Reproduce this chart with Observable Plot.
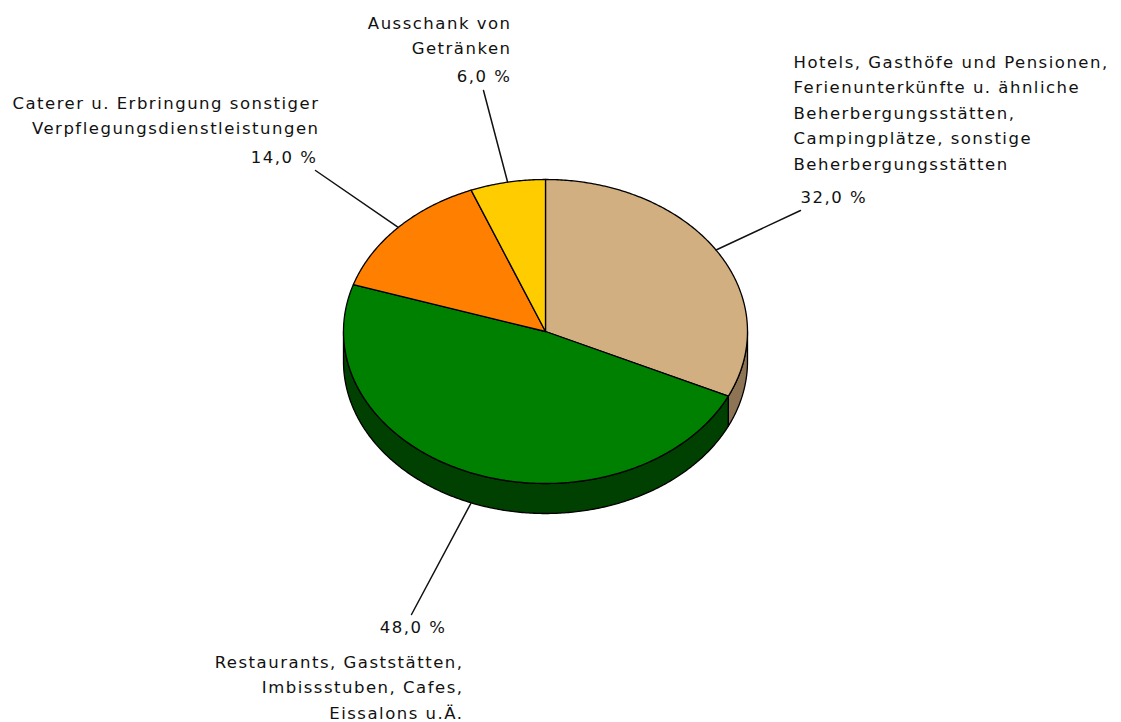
<!DOCTYPE html>
<html>
<head>
<meta charset="utf-8">
<script src="https://cdn.jsdelivr.net/npm/d3@7"></script>
<script src="https://cdn.jsdelivr.net/npm/@observablehq/plot@0.6"></script>
<style>
  html, body { margin: 0; padding: 0; background: #fff; }
  #chart svg { display: block; }
  #chart svg text { letter-spacing: 1.5px; }
</style>
</head>
<body>
<div id="chart"></div>
<script>
// ---- data ----
const categories = [
  "Hotels, Gasthöfe und Pensionen,\nFerienunterkünfte u. ähnliche\nBeherbergungsstätten,\nCampingplätze, sonstige\nBeherbergungsstätten",
  "Restaurants, Gaststätten,\nImbissstuben, Cafes,\nEissalons u.Ä.",
  "Caterer u. Erbringung sonstiger\nVerpflegungsdienstleistungen",
  "Ausschank von\nGetränken"
];
const values = [32.0, 48.0, 14.0, 6.0];
const percentLabels = ["32,0 %", "48,0 %", "14,0 %", "6,0 %"];
const topColors = ["#D2AF80", "#008000", "#FF7F00", "#FFCC00"];
const sideColors = ["#8C7454", "#004000", "#A05000", "#A08000"];

// ---- layout ----
const W = 1121, H = 722;
const CX = 545, CY = 331, RX = 202, RY = 152, DEPTH = 30;
const FONT = 16.5;
// label layout: name block (center), percent, leader end
const labelLayout = [
  {nx: 793, ny: 110, nAnchor: "start", px: 800, py: 197, pAnchor: "start", ex: 800, ey: 210, side: false},
  {nx: 463, ny: 684.5, nAnchor: "end", px: 446, py: 627, pAnchor: "end", ex: 411, ey: 614, side: true},
  {nx: 319, ny: 113, nAnchor: "end", px: 317, py: 157, pAnchor: "end", ex: 315, ey: 170, side: false},
  {nx: 511, ny: 33, nAnchor: "end", px: 511, py: 76, pAnchor: "end", ex: 483, ey: 90, side: false}
];

// ---- geometry (angle clockwise from 12 o'clock) ----
const total = d3.sum(values);
let acc = 0;
const slices = values.map((v, i) => {
  const a0 = acc / total * 2 * Math.PI;
  acc += v;
  const a1 = acc / total * 2 * Math.PI;
  return {i, a0, a1, mid: (a0 + a1) / 2};
});
const px = a => CX + RX * Math.sin(a);
const py = a => CY - RY * Math.cos(a);

const topPts = [];
const sidePts = [];
slices.forEach(s => {
  const n = Math.max(4, Math.ceil((s.a1 - s.a0) / 0.01));
  topPts.push({x: CX, y: CY, id: s.i, fill: topColors[s.i]});
  for (let k = 0; k <= n; k++) {
    const a = s.a0 + (s.a1 - s.a0) * k / n;
    topPts.push({x: px(a), y: py(a), id: s.i, fill: topColors[s.i]});
  }
  // visible side: angles in [PI/2, 3PI/2]
  const b0 = Math.max(s.a0, Math.PI / 2), b1 = Math.min(s.a1, 3 * Math.PI / 2);
  if (b1 > b0) {
    const m = Math.max(4, Math.ceil((b1 - b0) / 0.01));
    const up = [], down = [];
    for (let k = 0; k <= m; k++) {
      const a = b0 + (b1 - b0) * k / m;
      up.push({x: px(a), y: py(a), id: s.i, fill: sideColors[s.i]});
      down.push({x: px(a), y: py(a) + DEPTH, id: s.i, fill: sideColors[s.i]});
    }
    sidePts.push(...up, ...down.reverse());
  }
});

const leaders = [];
slices.forEach(s => {
  const L = labelLayout[s.i];
  leaders.push({x: px(s.mid), y: py(s.mid) + (L.side ? DEPTH : 0), id: s.i});
  leaders.push({x: L.ex, y: L.ey, id: s.i});
});

const names = categories.map((c, i) => ({text: c, ...labelLayout[i]}));
const pcts = percentLabels.map((t, i) => ({text: t, ...labelLayout[i]}));

const plot = Plot.plot({
  width: W, height: H,
  margin: 0,
  x: {type: "identity", axis: null},
  y: {type: "identity", axis: null},
  color: {type: "identity"},
  style: {fontFamily: "DejaVu Sans, sans-serif", fontSize: FONT + "px", background: "#fff"},
  marks: [
    Plot.line(sidePts, {x: "x", y: "y", z: "id", fill: "fill", stroke: "#000", strokeWidth: 1.3, curve: "linear-closed", strokeLinejoin: "round"}),
    Plot.line(topPts, {x: "x", y: "y", z: "id", fill: "fill", stroke: "#000", strokeWidth: 1.3, curve: "linear-closed", strokeLinejoin: "round"}),
    Plot.line(leaders, {x: "x", y: "y", z: "id", stroke: "#111", strokeWidth: 1.5}),
    Plot.text(names.filter(d => d.nAnchor === "start"), {x: "nx", y: "ny", text: "text", textAnchor: "start", lineAnchor: "middle", lineHeight: 1.55, fill: "#111", fontSize: FONT}),
    Plot.text(names.filter(d => d.nAnchor === "end"), {x: "nx", y: "ny", text: "text", textAnchor: "end", lineAnchor: "middle", lineHeight: 1.55, fill: "#111", fontSize: FONT}),
    Plot.text(pcts.filter(d => d.pAnchor === "start"), {x: "px", y: "py", text: "text", textAnchor: "start", lineAnchor: "middle", fill: "#111", fontSize: FONT}),
    Plot.text(pcts.filter(d => d.pAnchor === "end"), {x: "px", y: "py", text: "text", textAnchor: "end", lineAnchor: "middle", fill: "#111", fontSize: FONT})
  ]
});
document.getElementById("chart").appendChild(plot);
</script>
</body>
</html>
